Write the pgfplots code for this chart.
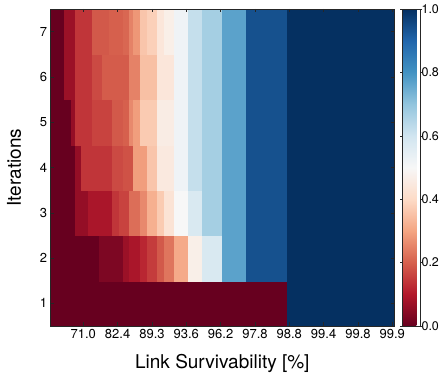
\documentclass[border=0pt]{standalone}
\usepackage{pgfplots}
\pgfplotsset{compat=1.18}
\usepackage{fontspec}
\setmainfont{TeX Gyre Heros}
\definecolor{axgray}{RGB}{38,38,38}
\begin{document}
\begin{tikzpicture}
\begin{axis}[
  at={(0,0)}, anchor=south west,
  scale only axis, width=343.3pt, height=317pt,
  xmin=0, xmax=100, ymin=0.5, ymax=7.5,
  xtick={9.5,19.5,29.5,39.5,49.5,59.5,69.5,79.5,89.5,99.5},
  xticklabels={71.0,82.4,89.3,93.6,96.2,97.8,98.8,99.4,99.8,99.9},
  ytick={1,2,3,4,5,6,7},
  tick align=inside, major tick length=3.5pt,
  tick style={axgray, line width=0.5pt},
  axis line style={axgray, line width=0.6pt},
  ticklabel style={font=\fontsize{13}{15}\selectfont},
  /pgf/number format/assume math mode=true,
  xlabel={Link Survivability [\%]}, ylabel={Iterations},
  label style={font=\fontsize{19}{22}\selectfont},
  xlabel style={at={(axis description cs:0.5,-0.1334)}, anchor=base},
  ylabel style={at={(axis description cs:-0.107,0.5)}, anchor=center},
  colormap={RdBu}{rgb255(0cm)=(103,0,31); rgb255(1cm)=(178,24,43); rgb255(2cm)=(214,96,77); rgb255(3cm)=(244,165,130); rgb255(4cm)=(253,219,199); rgb255(5cm)=(247,247,247); rgb255(6cm)=(209,229,240); rgb255(7cm)=(146,197,222); rgb255(8cm)=(67,147,195); rgb255(9cm)=(33,102,172); rgb255(10cm)=(5,48,97)},
  point meta min=0, point meta max=1,
  colorbar,
  colorbar style={
    at={(parent axis.north east)}, anchor=north west, xshift=-0.5pt,
    scale only axis, width=18pt, height=317pt,
    ytick={0,0.2,0.4,0.6,0.8,1},
    yticklabels={0.0,0.2,0.4,0.6,0.8,1.0},
    yticklabel pos=right,
    tick align=outside, major tick length=2pt,
    tick style={axgray, line width=0.5pt},
    axis line style={axgray, line width=0.6pt},
    yticklabel style={font=\fontsize{12.5}{15}\selectfont, xshift=-4pt},
  },
  axis on top,
]
\addplot[surf, shader=flat corner, mesh/cols=26, point meta=explicit] coordinates {
(0,0.5)[0] (4,0.5)[0] (6,0.5)[0] (7,0.5)[0] (9,0.5)[0] (11,0.5)[0] (12,0.5)[0] (14,0.5)[0] (15,0.5)[0] (17,0.5)[0] (18,0.5)[0] (20,0.5)[0] (21,0.5)[0] (23,0.5)[0] (24,0.5)[0] (26,0.5)[0] (28,0.5)[0] (31,0.5)[0] (33,0.5)[0] (36,0.5)[0] (40,0.5)[0] (44,0.5)[0] (50,0.5)[0] (57,0.5)[0] (69,0.5)[1] (100,0.5)[1]
(0,1.5)[0] (4,1.5)[0] (6,1.5)[0] (7,1.5)[0] (9,1.5)[0] (11,1.5)[0] (12,1.5)[0] (14,1.5)[0.03] (15,1.5)[0.03] (17,1.5)[0.03] (18,1.5)[0.03] (20,1.5)[0.03] (21,1.5)[0.07] (23,1.5)[0.09] (24,1.5)[0.09] (26,1.5)[0.12] (28,1.5)[0.15] (31,1.5)[0.19] (33,1.5)[0.23] (36,1.5)[0.31] (40,1.5)[0.47] (44,1.5)[0.58] (50,1.5)[0.77] (57,1.5)[0.94] (69,1.5)[1] (100,1.5)[1]
(0,2.5)[0] (4,2.5)[0] (6,2.5)[0] (7,2.5)[0.06] (9,2.5)[0.06] (11,2.5)[0.09] (12,2.5)[0.09] (14,2.5)[0.09] (15,2.5)[0.09] (17,2.5)[0.09] (18,2.5)[0.14] (20,2.5)[0.16] (21,2.5)[0.16] (23,2.5)[0.22] (24,2.5)[0.22] (26,2.5)[0.26] (28,2.5)[0.32] (31,2.5)[0.37] (33,2.5)[0.43] (36,2.5)[0.5] (40,2.5)[0.58] (44,2.5)[0.67] (50,2.5)[0.77] (57,2.5)[0.94] (69,2.5)[1] (100,2.5)[1]
(0,3.5)[0] (4,3.5)[0] (6,3.5)[0] (7,3.5)[0.06] (9,3.5)[0.14] (11,3.5)[0.14] (12,3.5)[0.14] (14,3.5)[0.14] (15,3.5)[0.14] (17,3.5)[0.14] (18,3.5)[0.17] (20,3.5)[0.17] (21,3.5)[0.18] (23,3.5)[0.18] (24,3.5)[0.29] (26,3.5)[0.29] (28,3.5)[0.36] (31,3.5)[0.45] (33,3.5)[0.45] (36,3.5)[0.52] (40,3.5)[0.62] (44,3.5)[0.67] (50,3.5)[0.77] (57,3.5)[0.94] (69,3.5)[1] (100,3.5)[1]
(0,4.5)[0] (4,4.5)[0] (6,4.5)[0.06] (7,4.5)[0.14] (9,4.5)[0.14] (11,4.5)[0.14] (12,4.5)[0.16] (14,4.5)[0.16] (15,4.5)[0.16] (17,4.5)[0.16] (18,4.5)[0.19] (20,4.5)[0.19] (21,4.5)[0.2] (23,4.5)[0.26] (24,4.5)[0.29] (26,4.5)[0.37] (28,4.5)[0.37] (31,4.5)[0.46] (33,4.5)[0.46] (36,4.5)[0.52] (40,4.5)[0.62] (44,4.5)[0.67] (50,4.5)[0.77] (57,4.5)[0.94] (69,4.5)[1] (100,4.5)[1]
(0,5.5)[0] (4,5.5)[0.07] (6,5.5)[0.07] (7,5.5)[0.14] (9,5.5)[0.14] (11,5.5)[0.14] (12,5.5)[0.17] (14,5.5)[0.17] (15,5.5)[0.195] (17,5.5)[0.195] (18,5.5)[0.195] (20,5.5)[0.195] (21,5.5)[0.195] (23,5.5)[0.25] (24,5.5)[0.25] (26,5.5)[0.35] (28,5.5)[0.35] (31,5.5)[0.44] (33,5.5)[0.44] (36,5.5)[0.52] (40,5.5)[0.62] (44,5.5)[0.67] (50,5.5)[0.77] (57,5.5)[0.94] (69,5.5)[1] (100,5.5)[1]
(0,6.5)[0] (4,6.5)[0.07] (6,6.5)[0.07] (7,6.5)[0.14] (9,6.5)[0.14] (11,6.5)[0.14] (12,6.5)[0.19] (14,6.5)[0.19] (15,6.5)[0.19] (17,6.5)[0.2] (18,6.5)[0.2] (20,6.5)[0.2] (21,6.5)[0.21] (23,6.5)[0.25] (24,6.5)[0.28] (26,6.5)[0.36] (28,6.5)[0.38] (31,6.5)[0.44] (33,6.5)[0.47] (36,6.5)[0.52] (40,6.5)[0.62] (44,6.5)[0.67] (50,6.5)[0.77] (57,6.5)[0.94] (69,6.5)[1] (100,6.5)[1]
(0,7.5)[0] (4,7.5)[0.07] (6,7.5)[0.07] (7,7.5)[0.14] (9,7.5)[0.14] (11,7.5)[0.14] (12,7.5)[0.19] (14,7.5)[0.19] (15,7.5)[0.19] (17,7.5)[0.2] (18,7.5)[0.2] (20,7.5)[0.2] (21,7.5)[0.21] (23,7.5)[0.25] (24,7.5)[0.28] (26,7.5)[0.36] (28,7.5)[0.38] (31,7.5)[0.44] (33,7.5)[0.47] (36,7.5)[0.52] (40,7.5)[0.62] (44,7.5)[0.67] (50,7.5)[0.77] (57,7.5)[0.94] (69,7.5)[1] (100,7.5)[1]
};
\end{axis}
\pgfresetboundingbox
\path (-50.7pt,-56pt) rectangle (394.3pt,326pt);
\end{tikzpicture}
\end{document}
